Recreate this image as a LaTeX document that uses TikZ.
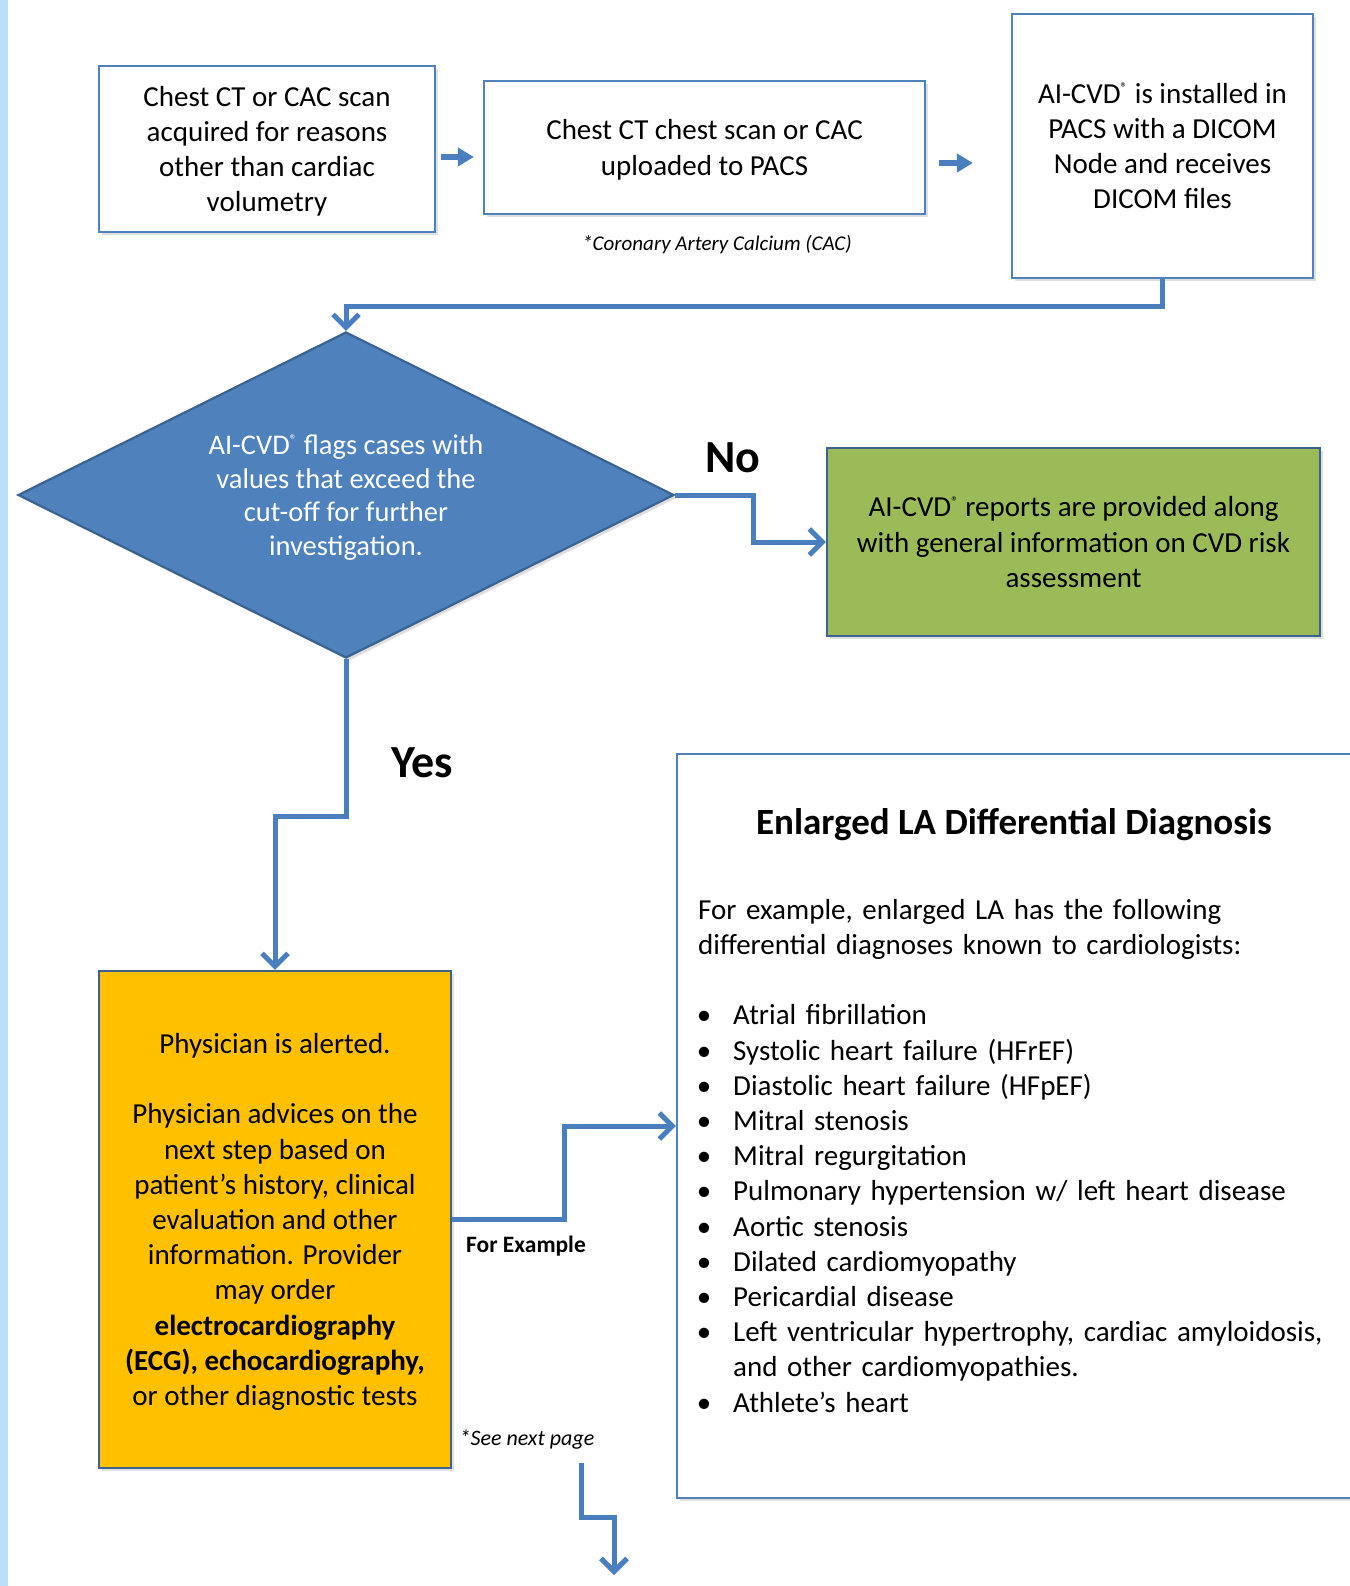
\documentclass[tikz,border=0pt]{standalone}
\usepackage{fontspec}
\setmainfont{Carlito}
\usepackage{enumitem}
\usetikzlibrary{arrows.meta,positioning,shapes.geometric,shadows}
\definecolor{cvBlue}{RGB}{79,129,189}
\definecolor{cvEdge}{RGB}{60,98,145}
\definecolor{cvArrow}{RGB}{74,126,190}
\definecolor{cvGreen}{RGB}{155,187,89}
\definecolor{cvAmber}{RGB}{255,192,0}
\definecolor{cvStrip}{RGB}{189,222,247}
\newcommand{\aicvd}{AI-CVD\textsuperscript{\fontsize{14}{14}\selectfont\raisebox{0.2ex}{®}}}
\newcommand{\bodysize}{\fontsize{29}{35.2}\selectfont}

\begin{document}
\begin{tikzpicture}[
  x=1pt, y=-1pt,
  font=\bodysize,
  box/.style={draw=cvBlue, line width=2.2pt, fill=white, align=center, inner sep=0pt, text depth=0pt,
    drop shadow={opacity=0.25, shadow xshift=3pt, shadow yshift=-3pt}},
  filled/.style={box, draw=cvEdge},
  blockarr/.style={draw=cvArrow, line width=6.5pt, -{Triangle[length=16pt,width=18pt]}},
  flowarr/.style={draw=cvArrow, line width=5pt, -{Straight Barb[length=13pt,width=26pt]}},
  lbl/.style={font=\fontsize{46}{50}\selectfont\bfseries},
  note/.style={font=\fontsize{21}{25}\selectfont\itshape}
]
\useasboundingbox (0,0) rectangle (1349,1586);
\fill[white] (0,0) rectangle (1349,1586);
\fill[cvStrip] (0,0) rectangle (8,1586);

% Top row
\node[box, minimum width=336pt, minimum height=166pt] (scan) at (267,149) {Chest CT or CAC scan\\ acquired for reasons\\ other than cardiac\\ volumetry};
\node[box, minimum width=441pt, minimum height=133pt] (pacs) at (704.5,147.5) {Chest CT chest scan or CAC\\ uploaded to PACS};
\node[box, minimum width=301pt, minimum height=264pt] (dicomnode) at (1162.5,146) {\aicvd{} is installed in\\ PACS with a DICOM\\ Node and receives\\ DICOM files};
\node[note] (cacnote) at (717,245) {*Coronary Artery Calcium (CAC)};

% Decision
\node[filled, diamond, aspect=2, fill=cvBlue, text=white, minimum width=656pt, minimum height=326pt,
  font=\fontsize{28.5}{33.5}\selectfont] (flag) at (346,495) {\aicvd{} flags cases with\\ values that exceed the\\ cut-off for further\\ investigation.};
\node[filled, fill=cvGreen, minimum width=493pt, minimum height=188pt] (report) at (1073.5,542) {\aicvd{} reports are provided along\\ with general information on CVD risk\\ assessment};
\node[lbl] (nolbl) at (733,458) {No};
\node[lbl] (yeslbl) at (422,763) {Yes};

% Physician
\node[filled, fill=cvAmber, minimum width=352pt, minimum height=497pt, text depth=-9pt] (alert) at (275,1219.5) {Physician is alerted.\\[35.2pt]
  Physician advices on the\\ next step based on\\ patient’s history, clinical\\ evaluation and other\\ information. Provider\\ may order\\
  \textbf{electrocardiography}\\ \textbf{(ECG), echocardiography,}\\ or other diagnostic tests};
\node[font=\fontsize{23.5}{26}\selectfont\bfseries] (forex) at (526,1246) {For Example};
\node[note, font=\fontsize{22}{26}\selectfont\itshape] (nextpage) at (527,1440) {*See next page};

% Differential diagnosis
\node[box, minimum width=675pt, minimum height=744pt] (ddx) at (1014.5,1126) {};
\node[font=\fontsize{37}{42}\selectfont\bfseries] (ddxtitle) at (1014,825) {Enlarged LA Differential Diagnosis};
\node[anchor=north west, text width=640pt, align=left, inner sep=0pt] (ddxbody) at (698,899) {%
  For example, enlarged LA has the following\\ differential diagnoses known to cardiologists:\par\vspace{35.2pt}
  \begin{itemize}[leftmargin=35pt, labelsep=22pt, itemsep=0pt, topsep=0pt, parsep=0pt, partopsep=0pt]
    \item Atrial fibrillation
    \item Systolic heart failure (HFrEF)
    \item Diastolic heart failure (HFpEF)
    \item Mitral stenosis
    \item Mitral regurgitation
    \item Pulmonary hypertension w/ left heart disease
    \item Aortic stenosis
    \item Dilated cardiomyopathy
    \item Pericardial disease
    \item Left ventricular hypertrophy, cardiac amyloidosis,\newline and other cardiomyopathies.
    \item Athlete’s heart
  \end{itemize}};

% Connectors
\draw[blockarr, shorten <=5pt, shorten >=9pt] ([yshift=-8pt]scan.east) -- ([yshift=-8pt]scan.east -| pacs.west);
\draw[blockarr, shorten <=13pt, shorten >=38pt] ([yshift=-15.5pt]pacs.east) -- ([yshift=-15.5pt]pacs.east -| dicomnode.west);
\draw[flowarr] (dicomnode.south) -- ++(0,27) -| (flag.north);
\draw[flowarr] (flag.east) -- ++(78,0) |- (report.west);
\draw[flowarr] (flag.south) -- ++(0,157) -| (alert.north);
\draw[flowarr] (alert.east) -- ++(112,0) |- (ddx.west);
\coordinate (nxtA) at (581,1463);
\coordinate (nxtB) at (614,1575);
\draw[flowarr] (nxtA) -- ++(0,54) -| (nxtB);

\end{tikzpicture}
\end{document}
